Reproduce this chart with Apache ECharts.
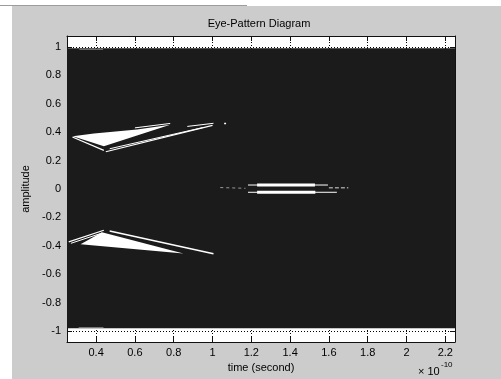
<!DOCTYPE html>
<html>
<head>
<meta charset="utf-8">
<script src="https://cdn.jsdelivr.net/npm/echarts@6/dist/echarts.min.js"></script>
<style>
  html, body { margin: 0; padding: 0; background: #fff; }
  #eye { width: 501px; height: 379px; }
</style>
</head>
<body>
<div id="eye"></div>
<script>
  // tick positions (time axis is in units of 1e-10 s)
  const xTicks = [0.4, 0.6, 0.8, 1, 1.2, 1.4, 1.6, 1.8, 2, 2.2]
  const yTicks = [-1, -0.8, -0.6, -0.4, -0.2, 0, 0.2, 0.4, 0.6, 0.8, 1]

  // dark band made by the overlapping traces
  const tracesBand = [[0.25, 0.99], [2.25, 0.99], [2.25, -0.98], [0.25, -0.98]]
  // open (white) parts of the eye
  const upperEyeFill = [[0.28, 0.371], [0.389, 0.39], [0.611, 0.419], [0.782, 0.451], [0.44, 0.301]]
  const lowerEyeFill = [[0.32, -0.388], [0.43, -0.305], [0.85, -0.453]]

  // single white traces
  const upperLeftTrace = [[0.278, 0.366], [0.44, 0.272]]
  const upperLowTrace1 = [[0.45, 0.262], [1.0, 0.448]]
  const upperLowTrace2 = [[0.47, 0.283], [0.95, 0.432]]
  const upperTopTrace1 = [[0.6, 0.43], [0.782, 0.461]]
  const upperTopTrace2 = [[0.87, 0.44], [1.005, 0.462]]
  const upperDot = [[1.06, 0.461], [1.07, 0.461]]
  const lowerLeftTrace1 = [[0.259, -0.372], [0.44, -0.29]]
  const lowerLeftTrace2 = [[0.27, -0.382], [0.43, -0.31]]
  const lowerTopTrace = [[0.47, -0.295], [1.005, -0.456]]
  const centerUpperThin = [[1.183, 0.028], [1.595, 0.028]]
  const centerUpperThick = [[1.23, 0.028], [1.528, 0.028]]
  const centerLowerThin = [[1.183, -0.023], [1.641, -0.023]]
  const centerLowerThick = [[1.23, -0.023], [1.53, -0.023]]
  const centerLeftBits = [[1.04, 0.01], [1.17, 0.005]]
  const centerRightBits = [[1.6, 0.008], [1.7, 0.008]]
  // grey fringes at the band edges
  const bandTopFringe = [[0.314, 0.982], [0.436, 0.982]]
  const bandBottomFringe = [[0.31, -0.974], [0.438, -0.974]]

  const polygons = [
    { pts: tracesBand, color: '#1b1b1b' },
    { pts: upperEyeFill, color: '#ffffff' },
    { pts: lowerEyeFill, color: '#ffffff' }
  ]
  const lines = [
    { pts: upperLeftTrace, w: 1.2 },
    { pts: upperLowTrace1, w: 1.2 },
    { pts: upperLowTrace2, w: 1 },
    { pts: upperTopTrace1, w: 1 },
    { pts: upperTopTrace2, w: 1 },
    { pts: upperDot, w: 1.5 },
    { pts: lowerLeftTrace1, w: 1.2 },
    { pts: lowerLeftTrace2, w: 1 },
    { pts: lowerTopTrace, w: 1.5 },
    { pts: centerUpperThin, w: 1 },
    { pts: centerUpperThick, w: 3 },
    { pts: centerLowerThin, w: 1 },
    { pts: centerLowerThick, w: 3 },
    { pts: centerLeftBits, w: 1, color: '#9a9a9a', dash: [3, 3] },
    { pts: centerRightBits, w: 1.5, color: '#9a9a9a', dash: [4, 2] },
    { pts: bandTopFringe, w: 1, color: '#7a7a7a' },
    { pts: bandBottomFringe, w: 1, color: '#7a7a7a' }
  ]

  var font = 'Liberation Sans'
  var chart = echarts.init(document.getElementById('eye'))

  var axisX = function (pos, labels) {
    return {
      type: 'value',
      position: pos,
      min: 0.25,
      max: 2.25,
      axisLine: { show: true, onZero: false, lineStyle: { color: '#111', width: 1 } },
      axisTick: { show: true, inside: true, length: 5, customValues: xTicks, lineStyle: { color: '#111' } },
      axisLabel: {
        show: labels, customValues: xTicks, margin: 5,
        color: '#000', fontSize: 11, fontFamily: font
      },
      splitLine: { show: labels, lineStyle: { color: '#000', type: [1, 2], width: 1 } },
      name: labels ? 'time (second)' : '',
      nameLocation: 'middle',
      nameGap: 17,
      nameTextStyle: { color: '#000', fontSize: 11, fontFamily: font }
    }
  }
  var axisY = function (pos, labels) {
    return {
      type: 'value',
      position: pos,
      min: -1.076,
      max: 1.076,
      axisLine: { show: true, onZero: false, lineStyle: { color: '#111', width: 1 } },
      axisTick: { show: true, inside: true, length: 5, customValues: yTicks, lineStyle: { color: '#111' } },
      axisLabel: {
        show: labels, customValues: yTicks, margin: 6,
        color: '#000', fontSize: 11, fontFamily: font
      },
      splitLine: { show: labels, lineStyle: { color: '#000', type: [1, 2], width: 1 } },
      name: labels ? 'amplitude' : '',
      nameLocation: 'middle',
      nameGap: 31,
      nameTextStyle: { color: '#000', fontSize: 11, fontFamily: font }
    }
  }

  var series = [{
    type: 'custom',
    coordinateSystem: 'cartesian2d',
    silent: true,
    z: 2,
    data: polygons.map(function (p, i) { return [i, 0] }),
    renderItem: function (params, api) {
      var p = polygons[params.dataIndex]
      return {
        type: 'polygon',
        shape: { points: p.pts.map(function (q) { return api.coord(q) }) },
        style: { fill: p.color, stroke: null }
      }
    }
  }]
  lines.forEach(function (l) {
    series.push({
      type: 'line',
      z: 3,
      silent: true,
      showSymbol: false,
      animation: false,
      data: l.pts,
      lineStyle: { color: l.color || '#ffffff', width: l.w, type: l.dash || 'solid' }
    })
  })

  var option = {
    backgroundColor: '#cccccc',
    animation: false,
    grid: {
      left: 67, right: 46, top: 36, bottom: 37,
      show: true, backgroundColor: '#ffffff', borderWidth: 0
    },
    xAxis: [axisX('bottom', true), axisX('top', false)],
    yAxis: [axisY('left', true), axisY('right', false)],
    graphic: [
      { type: 'rect', left: 0, top: 0, shape: { width: 501, height: 6 }, style: { fill: '#ffffff' } },
      { type: 'rect', left: 0, top: 0, shape: { width: 12, height: 379 }, style: { fill: '#ffffff' } },
      { type: 'line', shape: { x1: 0, y1: 5.5, x2: 247, y2: 5.5 }, style: { stroke: '#9c9c9c', lineWidth: 1 } },
      {
        type: 'text', x: 259, y: 24,
        style: { text: 'Eye-Pattern Diagram', fill: '#000', font: '11px "Liberation Sans"', textAlign: 'center', textVerticalAlign: 'middle' }
      },
      {
        type: 'text', x: 418, y: 372,
        style: { text: '× 10', fill: '#000', font: '11px "Liberation Sans"', textAlign: 'left', textVerticalAlign: 'middle' }
      },
      {
        type: 'text', x: 441, y: 365,
        style: { text: '-10', fill: '#000', font: '8px "Liberation Sans"', textAlign: 'left', textVerticalAlign: 'middle' }
      }
    ],
    series: series
  }
  chart.setOption(option)
</script>
</body>
</html>
